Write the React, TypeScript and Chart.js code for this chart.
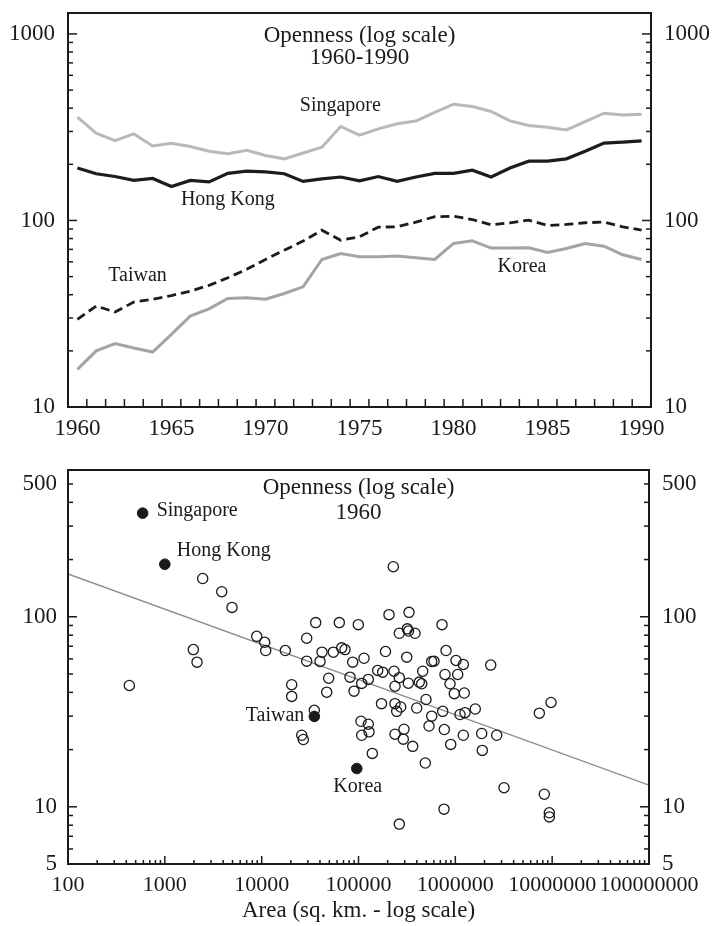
import React, { useEffect, useRef } from "react";
import { Chart, registerables } from "chart.js";

Chart.register(...registerables);

const FONT = "'Liberation Serif', 'Times New Roman', Times, serif";
const INK = "#1a1a1a";

// ---------- Top chart: openness 1960-1990 ----------
const years = [
  1960, 1961, 1962, 1963, 1964, 1965, 1966, 1967, 1968, 1969, 1970, 1971, 1972, 1973, 1974, 1975,
  1976, 1977, 1978, 1979, 1980, 1981, 1982, 1983, 1984, 1985, 1986, 1987, 1988, 1989, 1990,
];
const singapore = [358, 294, 268, 291, 251, 259, 249, 235, 228, 238, 223, 214, 230, 247, 319, 287, 310, 330, 341, 380, 420, 408, 384, 342, 323, 316, 306, 339, 376, 368, 371];
const hongKong = [191, 178, 172, 164, 168, 152, 164, 161, 179, 184, 182, 178, 162, 167, 171, 163, 172, 162, 171, 179, 179, 186, 171, 191, 208, 208, 214, 235, 260, 263, 267];
const taiwan = [29.5, 34.8, 32.3, 36.5, 37.8, 39.6, 41.8, 44.9, 49.3, 54.7, 61.8, 69.3, 77.5, 88.7, 78.4, 81.8, 92.1, 92.5, 98, 104.7, 105.4, 101.2, 94.8, 97.2, 100.4, 94, 95.2, 97.2, 98, 92.5, 88.7];
const korea = [15.9, 20.0, 21.9, 20.7, 19.7, 24.5, 30.7, 33.6, 38.2, 38.5, 37.8, 40.6, 44.1, 61.8, 66.5, 63.9, 63.9, 64.4, 63.1, 61.8, 75.3, 77.8, 71.1, 71.1, 71.4, 67.4, 70.8, 75.3, 72.8, 65.5, 61.8];

const seriesNames = ["Singapore", "Hong Kong", "Taiwan", "Korea"];
const seriesLabelYear = [1973.98, 1968.0, 1963.2, 1983.64];
const seriesLabelValue = [411, 129, 50.6, 56.3];

const topXTicks = [1960, 1965, 1970, 1975, 1980, 1985, 1990];
const topYTicks = [10, 100, 1000];
const topTitle = ["Openness (log scale)", "1960-1990"];

// ---------- Bottom chart: openness 1960 vs area ----------
const areaSqKm = [
  2460, 3870, 4940, 1970, 2150, 8890, 10750, 11010, 17540, 29180,
  36140, 63390, 99540, 29180, 40050, 41990, 54950, 67090, 72560, 87100,
  114000, 190100, 206500, 228800, 332300, 728500, 263900, 319200, 328500, 383300,
  314800, 570200, 602500, 801400, 1016000, 1209000, 2319000, 430, 20420, 20420,
  49230, 46970, 81700, 107900, 126300, 89900, 172800, 34970, 25920, 26920,
  106100, 126300, 107900, 128400, 138900, 157900, 177800, 232600, 263900, 238200,
  326900, 424600, 449500, 460300, 497900, 782000, 881500, 1058000, 975800, 1238000,
  238200, 248000, 272800, 399000, 570200, 534800, 740800, 1117000, 1259000, 1607000,
  238200, 295100, 290200, 363000, 769500, 896000, 1209000, 1872000, 2675000, 1899000,
  489800, 7370000, 9728000, 3184000, 8299000, 763800, 263900, 9346000, 9346000,
];
const openness1960 = [
  159, 135.5, 112, 67.2, 57.7, 78.9, 73.4, 66.4, 66.4, 77.1,
  93.2, 93.2, 90.9, 58.4, 58.2, 65.1, 65.1, 68.6, 67.2, 57.7,
  60.5, 65.6, 102.6, 183.4, 105.5, 90.9, 81.9, 86.4, 84.1, 81.9,
  61.3, 58.2, 58.4, 66.4, 58.9, 56.1, 55.7, 43.5, 43.9, 38.1,
  47.5, 40.1, 48.1, 44.6, 46.8, 40.6, 34.9, 32.2, 23.8, 22.6,
  28.2, 27.2, 23.8, 24.8, 19.1, 52.2, 51.1, 51.7, 47.8, 43.1,
  44.7, 45.3, 44.4, 51.7, 36.7, 49.7, 44.4, 49.7, 39.4, 39.7,
  34.9, 31.8, 33.5, 33.1, 30.0, 26.6, 31.8, 30.6, 31.3, 32.7,
  24.1, 25.6, 22.7, 20.8, 25.5, 21.3, 23.8, 24.3, 23.8, 19.8,
  17.0, 31.1, 35.4, 12.6, 11.65, 9.72, 8.11, 9.3, 8.85,
];
const highlightNames = ["Singapore", "Hong Kong", "Taiwan", "Korea"];
const highlightArea = [590, 1000, 35000, 96000];
const highlightOpenness = [351, 189, 29.9, 15.9];
const fitArea = [100, 100000000];
const fitOpenness = [168, 13];

const bottomXTicks = [100, 1000, 10000, 100000, 1000000, 10000000, 100000000];
const bottomYTicks = [5, 10, 100, 500];
const bottomTitle = ["Openness (log scale)", "1960"];
const bottomXTitle = "Area (sq. km. - log scale)";

// ---------- helpers ----------
function logTickValues(min: number, max: number) {
  const out: { v: number; major: boolean }[] = [];
  for (let e = Math.floor(Math.log10(min)) - 1; e <= Math.ceil(Math.log10(max)); e++) {
    for (let m = 1; m <= 9; m++) {
      const v = m * Math.pow(10, e);
      if (v >= min * 0.9999 && v <= max * 1.0001) out.push({ v, major: m === 1 });
    }
  }
  return out;
}

function seg(ctx: CanvasRenderingContext2D, x1: number, y1: number, x2: number, y2: number) {
  ctx.beginPath();
  ctx.moveTo(x1, y1);
  ctx.lineTo(x2, y2);
  ctx.stroke();
}

function yTicks(ctx: CanvasRenderingContext2D, a: any, ys: any) {
  for (const t of logTickValues(ys.min, ys.max)) {
    const py = ys.getPixelForValue(t.v);
    const len = t.major ? 9 : 5;
    seg(ctx, a.left, py, a.left + len, py);
    seg(ctx, a.right, py, a.right - len, py);
  }
}

const tickFont = { family: FONT, size: 23 };

function fixedSize(w: number | null, h: number | null) {
  return (s: any) => {
    if (w !== null) s.width = w;
    if (h !== null) s.height = h;
    s.paddingTop = 0;
    s.paddingBottom = 0;
    s.paddingLeft = 0;
    s.paddingRight = 0;
  };
}

function axisBase(extra: any) {
  return {
    grid: { display: false, drawTicks: false },
    border: { display: false },
    ...extra,
    ticks: {
      autoSkip: false,
      maxRotation: 0,
      minRotation: 0,
      color: INK,
      font: tickFont,
      callback: (v: any) => String(v),
      ...(extra.ticks || {}),
    },
  };
}

const topPlugin = {
  id: "topDecor",
  afterDraw(chart: any) {
    const { ctx, chartArea: a, scales } = chart;
    const xs = scales.x;
    const ys = scales.y;
    ctx.save();
    ctx.strokeStyle = INK;
    ctx.lineWidth = 1.5;
    yTicks(ctx, a, ys);
    for (let i = 0; i < years.length - 1; i++) {
      const px = xs.getPixelForValue(years[i] + 0.5);
      seg(ctx, px, a.bottom, px, a.bottom - 8);
    }
    ctx.lineWidth = 2;
    ctx.strokeRect(a.left, a.top, a.right - a.left, a.bottom - a.top);
    ctx.fillStyle = INK;
    ctx.textAlign = "center";
    ctx.textBaseline = "alphabetic";
    ctx.font = `23px ${FONT}`;
    const cx = (a.left + a.right) / 2;
    ctx.fillText(topTitle[0], cx, a.top + 29.3);
    ctx.fillText(topTitle[1], cx, a.top + 51.3);
    ctx.font = `20px ${FONT}`;
    ctx.textBaseline = "middle";
    seriesNames.forEach((n, i) => {
      ctx.fillText(n, xs.getPixelForValue(seriesLabelYear[i]), ys.getPixelForValue(seriesLabelValue[i]));
    });
    ctx.restore();
  },
};

const bottomPlugin = {
  id: "bottomDecor",
  afterDraw(chart: any) {
    const { ctx, chartArea: a, scales } = chart;
    const xs = scales.x;
    const ys = scales.y;
    ctx.save();
    ctx.strokeStyle = INK;
    ctx.lineWidth = 1.5;
    yTicks(ctx, a, ys);
    for (const t of logTickValues(xs.min, xs.max)) {
      const px = xs.getPixelForValue(t.v);
      seg(ctx, px, a.bottom, px, a.bottom - (t.major ? 8 : 4));
    }
    ctx.lineWidth = 2;
    ctx.strokeRect(a.left, a.top, a.right - a.left, a.bottom - a.top);
    ctx.fillStyle = INK;
    ctx.textAlign = "center";
    ctx.textBaseline = "alphabetic";
    ctx.font = `23px ${FONT}`;
    const cx = (a.left + a.right) / 2;
    ctx.fillText(bottomTitle[0], cx, a.top + 24.4);
    ctx.fillText(bottomTitle[1], cx, a.top + 49.3);
    // labels for highlighted economies
    ctx.font = `20px ${FONT}`;
    ctx.textBaseline = "middle";
    const offs = [
      { dx: 14, dy: -2, align: "left" },
      { dx: 12, dy: -13, align: "left" },
      { dx: -10, dy: -1, align: "right" },
      { dx: 1, dy: 18, align: "center" },
    ];
    highlightNames.forEach((n, i) => {
      const px = xs.getPixelForValue(highlightArea[i]);
      const py = ys.getPixelForValue(highlightOpenness[i]);
      ctx.textAlign = offs[i].align;
      ctx.fillText(n, px + offs[i].dx, py + offs[i].dy);
    });
    ctx.restore();
  },
};

export default function App() {
  const topRef = useRef<HTMLCanvasElement | null>(null);
  const botRef = useRef<HTMLCanvasElement | null>(null);

  useEffect(() => {
    const lineDs = (label: string, vals: number[], color: string, width: number, dash: number[] = []) => ({
      label,
      data: years.map((y, i) => ({ x: y, y: vals[i] })),
      borderColor: color,
      backgroundColor: color,
      borderWidth: width,
      borderDash: dash,
      pointRadius: 0,
      tension: 0,
      fill: false,
    });

    const top = new Chart(topRef.current as HTMLCanvasElement, {
      type: "line",
      data: {
        datasets: [
          lineDs("Hong Kong", hongKong, "#1c1c1c", 3.2),
          lineDs("Taiwan", taiwan, "#1c1c1c", 2.8, [9, 5]),
          lineDs("Singapore", singapore, "#b9b9b9", 3),
          lineDs("Korea", korea, "#a4a4a4", 3),
        ],
      },
      options: {
        responsive: false,
        animation: false,
        events: [],
        layout: { padding: { top: 13, left: 0, right: 0, bottom: 0 } },
        plugins: { legend: { display: false }, tooltip: { enabled: false } },
        scales: {
          x: axisBase({
            type: "linear",
            position: "bottom",
            min: 1959.5,
            max: 1990.5,
            afterBuildTicks: (s: any) => {
              s.ticks = topXTicks.map((v) => ({ value: v }));
            },
            afterFit: fixedSize(null, 43),
            ticks: { padding: 8.5 },
          }),
          y: axisBase({
            type: "logarithmic",
            position: "left",
            min: 10,
            max: 1295,
            afterBuildTicks: (s: any) => {
              s.ticks = topYTicks.map((v) => ({ value: v }));
            },
            afterFit: fixedSize(68, null),
            ticks: { padding: 13 },
          }),
          y2: axisBase({
            type: "logarithmic",
            position: "right",
            min: 10,
            max: 1295,
            afterBuildTicks: (s: any) => {
              s.ticks = topYTicks.map((v) => ({ value: v }));
            },
            afterFit: fixedSize(62, null),
            ticks: { padding: 13 },
          }),
        },
      } as any,
      plugins: [topPlugin],
    });

    const bottom = new Chart(botRef.current as HTMLCanvasElement, {
      type: "scatter",
      data: {
        datasets: [
          {
            label: "Highlighted",
            data: highlightArea.map((x, i) => ({ x, y: highlightOpenness[i] })),
            pointRadius: 5.3,
            pointBorderWidth: 1,
            pointBackgroundColor: "#1a1a1a",
            pointBorderColor: "#1a1a1a",
            showLine: false,
          },
          {
            label: "Countries",
            data: areaSqKm.map((x, i) => ({ x, y: openness1960[i] })),
            pointRadius: 5.1,
            pointBorderWidth: 1.3,
            pointBackgroundColor: "rgba(0,0,0,0)",
            pointBorderColor: "#1a1a1a",
            showLine: false,
          },
          {
            type: "line",
            label: "Fit",
            data: fitArea.map((x, i) => ({ x, y: fitOpenness[i] })),
            borderColor: "#8c8c8c",
            borderWidth: 1.3,
            pointRadius: 0,
            showLine: true,
            fill: false,
          },
        ],
      },
      options: {
        responsive: false,
        animation: false,
        events: [],
        layout: { padding: { top: 20, left: 0, right: 0, bottom: 0 } },
        plugins: { legend: { display: false }, tooltip: { enabled: false } },
        scales: {
          x: axisBase({
            type: "logarithmic",
            position: "bottom",
            min: 100,
            max: 100000000,
            afterBuildTicks: (s: any) => {
              s.ticks = bottomXTicks.map((v) => ({ value: v }));
            },
            afterFit: fixedSize(null, 62),
            ticks: { padding: 8.5, font: { family: FONT, size: 22 } },
            title: {
              display: true,
              text: bottomXTitle,
              color: INK,
              font: { family: FONT, size: 23 },
              padding: { top: 0, bottom: 1 },
            },
          }),
          y: axisBase({
            type: "logarithmic",
            position: "left",
            min: 5,
            max: 592,
            afterBuildTicks: (s: any) => {
              s.ticks = bottomYTicks.map((v) => ({ value: v }));
            },
            afterFit: fixedSize(68, null),
            ticks: { padding: 11 },
          }),
          y2: axisBase({
            type: "logarithmic",
            position: "right",
            min: 5,
            max: 592,
            afterBuildTicks: (s: any) => {
              s.ticks = bottomYTicks.map((v) => ({ value: v }));
            },
            afterFit: fixedSize(64, null),
            ticks: { padding: 13 },
          }),
        },
      } as any,
      plugins: [bottomPlugin],
    });

    return () => {
      top.destroy();
      bottom.destroy();
    };
  }, []);

  return (
    <div style={{ position: "fixed", left: 0, top: 0, width: 713, height: 926, background: "#ffffff" }}>
      <canvas ref={topRef} width={713} height={450} style={{ display: "block", width: 713, height: 450 }} />
      <canvas ref={botRef} width={713} height={476} style={{ display: "block", width: 713, height: 476 }} />
    </div>
  );
}
